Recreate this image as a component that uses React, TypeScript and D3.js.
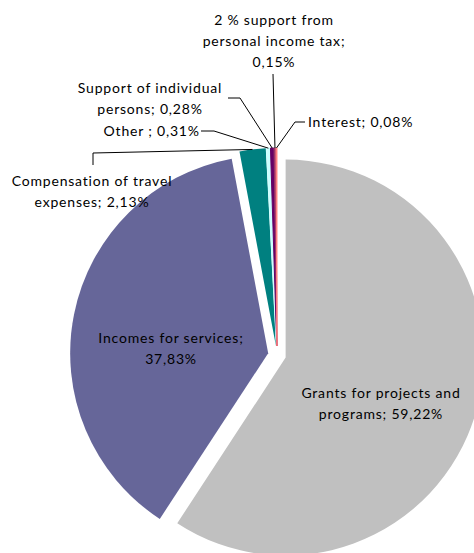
import React, { useEffect, useRef } from 'react';
import * as d3 from 'd3';

// slice data, clockwise from 12 o'clock
const categories = [
  'Grants for projects and programs',
  'Incomes for services',
  'Compensation of travel expenses',
  'Other ',
  'Support of individual persons',
  '2 % support from personal income tax',
  'Interest',
];
const values = [59.22, 37.83, 2.13, 0.31, 0.28, 0.15, 0.08];
const valueLabels = ['59,22%', '37,83%', '2,13%', '0,31%', '0,28%', '0,15%', '0,08%'];
const colors = ['#c0c0c0', '#666699', '#008080', '#ccffff', '#660066', '#993366', '#ff8080'];

// label text lines (as shown on the chart)
const labelLines = [
  ['Grants for projects and', 'programs; 59,22%'],
  ['Incomes for services;', '37,83%'],
  ['Compensation of travel', 'expenses; 2,13%'],
  ['Other ; 0,31%'],
  ['Support of individual', 'persons; 0,28%'],
  ['2 % support from', 'personal income tax;', '0,15%'],
  ['Interest; 0,08%'],
];

interface Slice {
  label: string;
  value: number;
  color: string;
  idx: number;
}

const W = 474;
const H = 553;

const App: React.FC = () => {
  const ref = useRef<SVGSVGElement>(null);

  useEffect(() => {
    if (!ref.current) return;
    const svg = d3.select(ref.current);
    svg.selectAll('*').remove();

    const cx = 277;
    const cy = 355;
    const radius = 198;
    const explode = 9;
    const lh = 21;

    const data: Slice[] = categories.map((c, i) => ({ label: c, value: values[i], color: colors[i], idx: i }));

    const pie = d3.pie<Slice>().value(d => d.value).sort(null).startAngle(0).endAngle(2 * Math.PI);
    const arc = d3.arc<d3.PieArcDatum<Slice>>().innerRadius(0).outerRadius(radius);
    const arcs = pie(data);

    const g = svg.append('g').attr('transform', `translate(${cx},${cy})`);

    const off = (d: d3.PieArcDatum<Slice>) => {
      const mid = (d.startAngle + d.endAngle) / 2;
      return [Math.sin(mid) * explode, -Math.cos(mid) * explode];
    };

    // tranches
    g.selectAll('path.slice')
      .data(arcs)
      .enter()
      .append('path')
      .attr('class', 'slice')
      .attr('d', d => arc(d) || '')
      .attr('fill', d => d.data.color)
      .attr('stroke', d => (d.data.value < 1 ? d.data.color : 'none'))
      .attr('stroke-width', 1)
      .attr('transform', d => `translate(${off(d)[0]},${off(d)[1]})`);

    // label layout (page coords): text centre, anchor, elbow points of the leader line
    const layout: { x: number; y: number; anchor: string; elbow?: [number, number][] }[] = [
      { x: 381, y: 393, anchor: 'middle' },
      { x: 171, y: 338, anchor: 'middle' },
      { x: 92, y: 181, anchor: 'middle', elbow: [[93, 153], [93, 165]] },
      { x: 199, y: 131, anchor: 'end', elbow: [[214, 131], [201, 131]] },
      { x: 150, y: 88, anchor: 'middle', elbow: [[240, 98], [228, 98]] },
      { x: 274, y: 20, anchor: 'middle', elbow: [[273, 74]] },
      { x: 308, y: 122, anchor: 'start', elbow: [[295, 122], [305, 122]] },
    ];

    const root = svg.append('g');

    arcs.forEach((d, i) => {
      const l = layout[i];
      if (l.elbow) {
        const mid = (d.startAngle + d.endAngle) / 2;
        const [ox, oy] = off(d);
        const sx = cx + ox + Math.sin(mid) * radius;
        const sy = cy + oy - Math.cos(mid) * radius;
        const pts: [number, number][] = [[sx, sy], ...l.elbow];
        root.append('polyline')
          .attr('points', pts.map(p => p.join(',')).join(' '))
          .attr('fill', 'none')
          .attr('stroke', '#000')
          .attr('stroke-width', 1);
      }
      const lines = labelLines[i];
      const t = root.append('text')
        .attr('text-anchor', l.anchor)
        .attr('font-family', 'Lato, "Open Sans", sans-serif')
        .attr('font-size', 14)
        .attr('letter-spacing', 0.8)
        .attr('fill', '#000');
      lines.forEach((s, k) => {
        t.append('tspan')
          .attr('x', l.anchor === 'end' ? l.x + 0.8 : l.x)
          .attr('y', l.y + k * lh + 5)
          .text(s);
      });
    });
  }, []);

  return (
    <div style={{ position: 'absolute', left: 0, top: 0, width: W, height: H, background: '#fff' }}>
      <svg ref={ref} width={W} height={H} style={{ display: 'block' }} />
    </div>
  );
};

export default App;
